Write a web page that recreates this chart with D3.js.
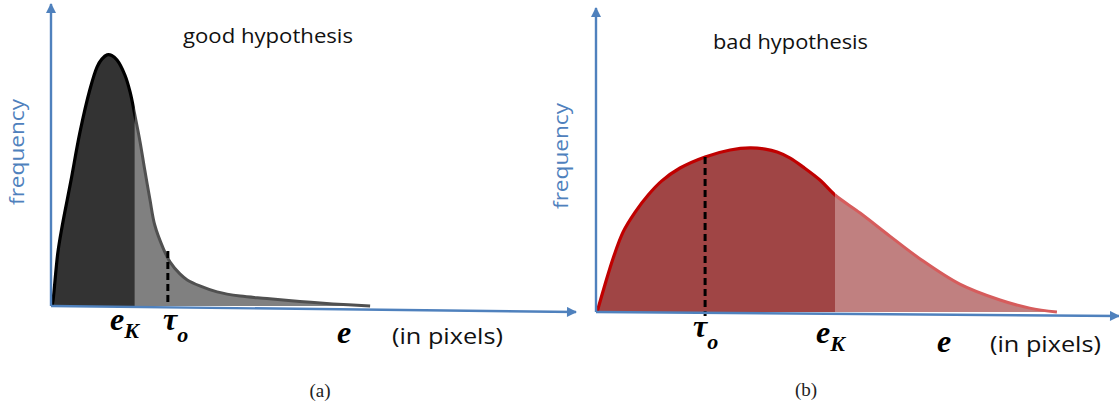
<!DOCTYPE html>
<html>
<head>
<meta charset="utf-8">
<script src="https://cdn.jsdelivr.net/npm/d3@7"></script>
<style>
  html, body { margin: 0; padding: 0; background: #fff; }
  svg { display: block; }
</style>
</head>
<body>
<svg id="fig" width="1119" height="405"></svg>
<script>
// Residual-error distributions (e in % of axis length, frequency in % of axis height)
const goodE    = [0.2, 0.4, 1.3, 2.1, 3.8, 5.5, 7.4, 8.8, 9.7, 10.7, 11.6, 12.6, 14.1, 15.1, 16.0, 17.0, 17.9, 18.9, 19.8, 21.4, 22.7, 24.6, 26.0, 28.4, 31.7, 36.1, 41.2, 47.5, 53.8, 60.9];
const goodFreq = [0, 2, 17.7, 26.3, 41.7, 57.7, 72, 79.7, 82.3, 83.7, 83.5, 82, 77, 71.3, 63.7, 54.7, 45.3, 35.3, 27, 19.3, 14.7, 10.7, 8.7, 6.7, 4.7, 3.3, 2.5, 1.5, 0.7, 0];
const badE     = [0.2, 1.7, 3.3, 5.2, 7.5, 10.0, 12.6, 16.1, 20.9, 25.7, 29.5, 32.4, 34.7, 37.2, 39.7, 42.9, 45.8, 50.6, 56.3, 62.1, 69.7, 77.4, 83.1, 88.3];
const badFreq  = [0, 9, 18, 26.7, 33.3, 39, 43.7, 48, 51.7, 54, 54.7, 54.3, 53.3, 51.3, 48.3, 44, 39, 33, 25.3, 17.7, 9.3, 4, 1.3, 0];
// Thresholds: [e_K, tau_o] per panel
const goodMarks = [16.0, 22.3];
const badMarks  = [45.8, 20.9];
const tauTopGood = 18.3;   // dashed marker top (frequency units)
const titles   = ["good hypothesis", "bad hypothesis"];
const captions = ["(a)", "(b)"];

const svg = d3.select("#fig");
const axisBlue = "#4f81bd";

const defs = svg.append("defs");
defs.append("marker")
  .attr("id", "arrow")
  .attr("viewBox", "0 0 10 10")
  .attr("refX", 9).attr("refY", 5)
  .attr("markerUnits", "userSpaceOnUse")
  .attr("markerWidth", 11).attr("markerHeight", 10)
  .attr("orient", "auto")
  .append("path").attr("d", "M0,0 L10,5 L0,10 Z").attr("fill", axisBlue);

function panel(cfg) {
  const x = d3.scaleLinear().domain([0, 100]).range(cfg.xRange);
  const y = d3.scaleLinear().domain([0, 100]).range(cfg.yRange);
  const g = svg.append("g");
  const pts = cfg.e.map((e, i) => ({ e, f: cfg.f[i] }));
  const eK = cfg.marks[0], tau = cfg.marks[1];

  const curve = d3.curveCatmullRom.alpha(0.5);
  const area = d3.area().x(d => x(d.e)).y0(y(0)).y1(d => y(d.f)).curve(curve);
  const line = d3.line().x(d => x(d.e)).y(d => y(d.f)).curve(curve);

  const idL = cfg.id + "L", idR = cfg.id + "R";
  defs.append("clipPath").attr("id", idL).append("rect")
    .attr("x", 0).attr("y", 0).attr("width", x(eK)).attr("height", 405);
  defs.append("clipPath").attr("id", idR).append("rect")
    .attr("x", x(eK)).attr("y", 0).attr("width", 1119).attr("height", 405);

  // tail (beyond e_K)
  g.append("path").attr("d", area(pts)).attr("fill", cfg.lightFill).attr("clip-path", `url(#${idR})`);
  g.append("path").attr("d", line(pts)).attr("fill", "none").attr("stroke", cfg.lightStroke)
    .attr("stroke-width", 3).attr("clip-path", `url(#${idR})`);
  // bulk (up to e_K)
  g.append("path").attr("d", area(pts)).attr("fill", cfg.darkFill).attr("clip-path", `url(#${idL})`);
  g.append("path").attr("d", line(pts)).attr("fill", "none").attr("stroke", cfg.darkStroke)
    .attr("stroke-width", 3.2).attr("stroke-linejoin", "round").attr("clip-path", `url(#${idL})`);

  // tau_o marker
  g.append("line")
    .attr("x1", x(tau)).attr("x2", x(tau))
    .attr("y1", y(cfg.tauTop)).attr("y2", y(0) + cfg.tauBelow)
    .attr("stroke", "#000").attr("stroke-width", 3).attr("stroke-dasharray", "7,4");

  // axes
  g.append("line")
    .attr("x1", x(0)).attr("y1", y(0)).attr("x2", x(0)).attr("y2", cfg.yTip)
    .attr("stroke", axisBlue).attr("stroke-width", 2.4).attr("marker-end", "url(#arrow)");
  g.append("line")
    .attr("x1", x(0)).attr("y1", y(0)).attr("x2", cfg.xTip[0]).attr("y2", cfg.xTip[1])
    .attr("stroke", axisBlue).attr("stroke-width", 2.4).attr("marker-end", "url(#arrow)");

  // axis title
  g.append("text")
    .attr("transform", `translate(${cfg.freqPos[0]},${cfg.freqPos[1]}) rotate(-90)`)
    .attr("text-anchor", "middle")
    .attr("font-family", "Open Sans").attr("font-size", 20)
    .attr("textLength", 106).attr("lengthAdjust", "spacingAndGlyphs")
    .attr("fill", axisBlue).text("frequency");

  // panel title
  g.append("text")
    .attr("x", cfg.titlePos[0]).attr("y", cfg.titlePos[1])
    .attr("font-family", "Open Sans").attr("font-size", 20)
    .attr("textLength", cfg.titleLen).attr("lengthAdjust", "spacingAndGlyphs")
    .attr("fill", "#111").text(cfg.title);

  // symbol with optional subscript
  const math = (xp, yp, main, sub, dy) => {
    const t = g.append("text").attr("x", xp).attr("y", yp)
      .attr("font-family", "Liberation Serif").attr("font-weight", "bold").attr("font-style", "italic")
      .attr("font-size", 32).attr("fill", "#000");
    t.append("tspan").text(main);
    if (sub) t.append("tspan").attr("dy", dy).attr("font-size", 22).text(sub);
  };
  math(cfg.eKLabel[0], cfg.eKLabel[1], "e", "K", 8);
  math(cfg.tauLabel[0], cfg.tauLabel[1], "τ", "o", 12);
  math(cfg.eLabel[0], cfg.eLabel[1], "e");

  g.append("text")
    .attr("x", cfg.unitPos[0]).attr("y", cfg.unitPos[1])
    .attr("font-family", "Open Sans").attr("font-size", 22)
    .attr("textLength", 111).attr("lengthAdjust", "spacingAndGlyphs")
    .attr("fill", "#111").text("(in pixels)");

  g.append("text")
    .attr("x", cfg.capPos[0]).attr("y", cfg.capPos[1])
    .attr("text-anchor", "middle")
    .attr("font-family", "Liberation Serif").attr("font-size", 19)
    .attr("fill", "#222").text(cfg.caption);
}

panel({
  id: "good", e: goodE, f: goodFreq, marks: goodMarks,
  xRange: [51, 575], yRange: [306, 6], yTip: 4, xTip: [576, 312],
  darkFill: "#333333", lightFill: "#808080", darkStroke: "#000", lightStroke: "#505050",
  tauTop: tauTopGood, tauBelow: 0,
  freqPos: [24, 152], title: titles[0], titlePos: [183, 43], titleLen: 170,
  eKLabel: [110, 330], tauLabel: [163, 330], eLabel: [337, 343], unitPos: [392, 344],
  caption: captions[0], capPos: [320, 397]
});

panel({
  id: "bad", e: badE, f: badFreq, marks: badMarks,
  xRange: [596, 1118], yRange: [312, 12], yTip: 8, xTip: [1119, 316],
  darkFill: "#a04545", lightFill: "#c08080", darkStroke: "#c00000", lightStroke: "#d65c5c",
  tauTop: badFreq[badE.indexOf(badMarks[1])], tauBelow: 4,
  freqPos: [568, 156], title: titles[1], titlePos: [713, 49], titleLen: 155,
  eKLabel: [816, 343], tauLabel: [693, 337], eLabel: [937, 352], unitPos: [990, 352],
  caption: captions[1], capPos: [806, 396]
});
</script>
</body>
</html>
